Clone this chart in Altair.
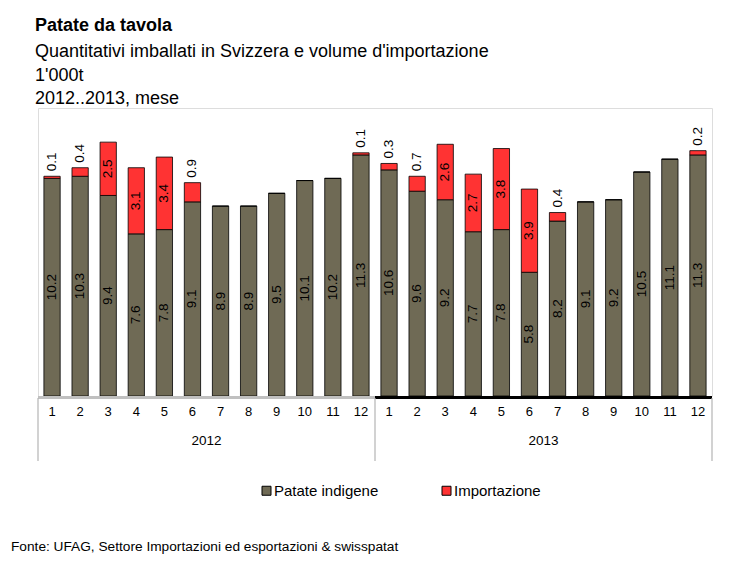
import altair as alt
import pandas as pd

# ---- data ----
months = list(range(1, 13))
years = ["2012", "2013"]
domestic_2012 = [10.2, 10.3, 9.4, 7.6, 7.8, 9.1, 8.9, 8.9, 9.5, 10.1, 10.2, 11.3]
import_2012 = [0.1, 0.4, 2.5, 3.1, 3.4, 0.9, 0.0, 0.0, 0.0, 0.0, 0.0, 0.1]
domestic_2013 = [10.6, 9.6, 9.2, 7.7, 7.8, 5.8, 8.2, 9.1, 9.2, 10.5, 11.1, 11.3]
import_2013 = [0.3, 0.7, 2.6, 2.7, 3.8, 3.9, 0.4, 0.0, 0.0, 0.0, 0.0, 0.2]
series = ["Patate indigene", "Importazione"]
colors = ["#6f6a55", "#ff3333"]
year_band_colors = ["#c0c0c0", "#000000"]

title_text = "Patate da tavola"
subtitle_lines = [
    "Quantitativi imballati in Svizzera e volume d'importazione",
    "1'000t",
    "2012..2013, mese",
]
source_text = "Fonte: UFAG, Settore Importazioni ed esportazioni & swisspatat"

FONT = "Liberation Sans"

# ---- tables built from the arrays ----
rows = []
for yi, (yr, dom, imp) in enumerate(
    [("2012", domestic_2012, import_2012), ("2013", domestic_2013, import_2013)]
):
    for mi, m in enumerate(months):
        idx = yi * 12 + mi
        rows.append(dict(idx=idx, month=m, year=yr, series=series[0],
                         value=dom[mi], order=0, base=0.0))
        rows.append(dict(idx=idx, month=m, year=yr, series=series[1],
                         value=imp[mi], order=1, base=dom[mi]))
df = pd.DataFrame(rows)
df["mid"] = df["base"] + df["value"] / 2
df["top"] = df["base"] + df["value"]

years_df = pd.DataFrame({
    "year": years,
    "start": [0, 12],
    "end": [12, 24],
    "mid": [6, 18],
})
bounds_df = pd.DataFrame({"b": [0, 12, 24]})
source_df = pd.DataFrame({"t": [source_text]})

xband = alt.X(
    "idx:O",
    scale=alt.Scale(paddingInner=0.42, paddingOuter=0.21),
    axis=alt.Axis(
        title=None, labelAngle=0, domain=False, ticks=False, tickSize=0,
        labelPadding=9, labelFont=FONT, labelFontSize=13, labelColor="black",
        labelExpr="datum.value % 12 + 1", grid=False,
    ),
)
yscale = alt.Scale(domain=[0, 13.5], nice=False, zero=True)

base = alt.Chart(df)

bars = base.mark_bar(stroke="black", strokeWidth=0.8).encode(
    x=xband,
    y=alt.Y("value:Q", stack="zero", scale=yscale, axis=None),
    color=alt.Color(
        "series:N",
        scale=alt.Scale(domain=series, range=colors),
        legend=alt.Legend(
            orient="none", legendX=221, legendY=375, direction="horizontal",
            title=None, symbolType="square", symbolSize=81,
            symbolStrokeColor="black", symbolStrokeWidth=1,
            labelFont=FONT, labelFontSize=15, labelColor="black",
            labelOffset=0, columnPadding=60, padding=0,
        ),
    ),
    order=alt.Order("order:Q"),
)

label_style = dict(angle=270, font=FONT, fontSize=13.5, color="black")

dom_labels = base.transform_filter(
    alt.datum.series == series[0]
).mark_text(align="center", baseline="middle", **label_style).encode(
    x=alt.X("idx:O"),
    y=alt.Y("mid:Q", scale=yscale),
    text=alt.Text("value:Q", format=".1f"),
)

imp_in_labels = base.transform_filter(
    (alt.datum.series == series[1]) & (alt.datum.value >= 2)
).mark_text(align="center", baseline="middle", **label_style).encode(
    x=alt.X("idx:O"),
    y=alt.Y("mid:Q", scale=yscale),
    text=alt.Text("value:Q", format=".1f"),
)

imp_out_labels = base.transform_filter(
    (alt.datum.series == series[1]) & (alt.datum.value > 0) & (alt.datum.value < 2)
).mark_text(align="left", baseline="middle", dx=5, **label_style).encode(
    x=alt.X("idx:O"),
    y=alt.Y("top:Q", scale=yscale),
    text=alt.Text("value:Q", format=".1f"),
)

bar_layer = alt.layer(bars, dom_labels, imp_in_labels, imp_out_labels)

xq = alt.Scale(domain=[0, 24], nice=False, zero=False)

year_bands = alt.Chart(years_df).mark_rect().encode(
    x=alt.X("start:Q", scale=xq, axis=None),
    x2="end:Q",
    y=alt.value(288),
    y2=alt.value(291),
    fill=alt.Fill("year:N", scale=alt.Scale(domain=years, range=year_band_colors), legend=None),
)

frame_rules = alt.Chart(bounds_df).mark_rule(color="#b4b4b4", strokeWidth=1.2).encode(
    x=alt.X("b:Q", scale=xq, axis=None),
    y=alt.value(290),
    y2=alt.value(353),
)

year_labels = alt.Chart(years_df).mark_text(
    font=FONT, fontSize=13.5, color="black", baseline="middle", align="center"
).encode(
    x=alt.X("mid:Q", scale=xq, axis=None),
    y=alt.value(333),
    text="year:N",
)

frame_layer = alt.layer(year_bands, frame_rules, year_labels)

source = alt.Chart(source_df).mark_text(
    font=FONT, fontSize=13.7, color="black", align="left", baseline="middle"
).encode(
    x=alt.value(-27),
    y=alt.value(439),
    text="t:N",
)

chart = alt.layer(
    bar_layer, frame_layer, source,
).resolve_scale(
    x="independent"
).properties(
    width=674,
    height=288,
    padding={"left": 30, "top": 100, "right": 17, "bottom": 161},
    autosize=alt.AutoSizeParams(type="none"),
    title=alt.TitleParams(
        text=title_text,
        subtitle=subtitle_lines,
        anchor="start",
        frame="group",
        dx=-3,
        offset=0,
        font=FONT,
        fontSize=18,
        fontWeight="bold",
        color="black",
        subtitleFont=FONT,
        subtitleFontSize=18,
        subtitleColor="black",
        subtitleLineHeight=23.5,
        subtitlePadding=8,
    ),
).configure_view(
    stroke=None
).configure(
    background="white"
)

chart.save("out.html", embed_options={"renderer": "svg", "actions": False})
